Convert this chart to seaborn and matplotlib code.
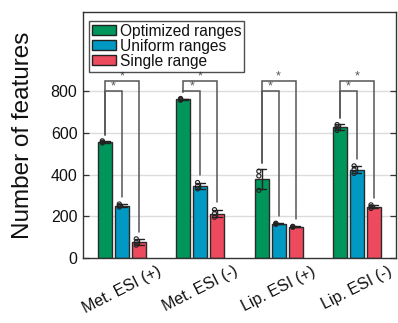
import numpy as np
import pandas as pd
import seaborn as sns
import matplotlib
matplotlib.use("Agg")
import matplotlib.pyplot as plt

# Acquisition modes and the three m/z range strategies
modes = ["Met. ESI (+)", "Met. ESI (-)", "Lip. ESI (+)", "Lip. ESI (-)"]
methods = ["Optimized ranges", "Uniform ranges", "Single range"]
colors = ["#00955A", "#0099C4", "#EE4A5E"]

# Feature counts of the replicate runs (per mode)
optimized = [[552, 556, 562], [757, 760, 765], [416, 394, 325], [612, 628, 640]]
uniform = [[245, 251, 259], [332, 345, 362], [162, 164, 167], [406, 424, 442]]
single = [[62, 76, 92], [196, 213, 232], [148, 150, 152], [238, 246, 255]]

yticks = [0, 200, 400, 600, 800]

rows = []
for method, table in zip(methods, [optimized, uniform, single]):
    for mode, reps in zip(modes, table):
        for v in reps:
            rows.append({"mode": mode, "method": method, "count": v})
df = pd.DataFrame(rows)

sns.set_theme(style="white")
plt.rcParams["font.family"] = ["Liberation Sans", "DejaVu Sans"]

fig = plt.figure(figsize=(3.98, 3.23), dpi=100)
ax = fig.add_axes([0.2085, 0.201, 0.7865, 0.762])

for y in yticks[1:]:
    ax.axhline(y, color="#dcdcdc", lw=1.0, zorder=0)

sns.barplot(data=df, x="mode", y="count", hue="method", order=modes,
            hue_order=methods, palette=colors, errorbar="sd", capsize=0.35,
            err_kws={"color": "#222222", "linewidth": 1.0},
            width=0.65, gap=0.17, edgecolor="#2a2a2a", linewidth=1.0,
            saturation=1, ax=ax, zorder=2)

# replicate points as small open circles on the left half of each bar
tables = [optimized, uniform, single]
for h, cont in enumerate(ax.containers):
    for j, bar in enumerate(cont):
        xc = bar.get_x() + bar.get_width() * 0.3
        reps = tables[h][j]
        ax.scatter([xc] * len(reps), reps, s=9, facecolors="none",
                   edgecolors="#222222", linewidths=0.8, zorder=4)

# significance brackets: optimized vs uniform and optimized vs single
br_col = "#555555"
levels = [(1, 800, 822), (2, 850, 872)]
for j in range(len(modes)):
    g = ax.containers[0][j]
    xg = g.get_x() + g.get_width() / 2
    top_g = np.mean(optimized[j]) + np.std(optimized[j], ddof=1) + 30
    for h, ybr, yst in levels:
        b = ax.containers[h][j]
        xb = b.get_x() + b.get_width() / 2
        reps = tables[h][j]
        top_b = np.mean(reps) + np.std(reps, ddof=1) + 35
        ax.plot([xg, xg, xb, xb], [top_g, ybr, ybr, top_b], color=br_col,
                lw=1.1, zorder=3, solid_joinstyle="miter")
        ax.text((xg + xb) / 2, yst, "*", ha="center", va="center",
                fontsize=9, color="#555555", zorder=3)

ax.set_ylim(0, 1180)
ax.set_xlim(-0.5, 3.5)
ax.set_yticks(yticks)
ax.set_yticklabels([str(v) for v in yticks], fontsize=11.5)
ax.set_xticks(range(len(modes)))
ax.set_xticklabels(modes, fontsize=11.5, rotation=27, ha="center")
ax.set_xlabel("")
ax.set_ylabel("Number of features", fontsize=17.5, labelpad=12)
ax.tick_params(axis="both", direction="in", length=4, width=0.9,
               color="#333333", left=True, right=True, bottom=False,
               pad=4, labelcolor="#111111")
ax.tick_params(axis="x", pad=4)
ax.yaxis.label.set_color("#111111")
for sp in ax.spines.values():
    sp.set_color("#333333")
    sp.set_linewidth(1.0)
    sp.set_visible(True)

leg = ax.legend(loc="upper left", bbox_to_anchor=(0.02, 0.965),
                fontsize=11.2, frameon=True, fancybox=False,
                edgecolor="#222222", handlelength=1.5, handleheight=0.6,
                handletextpad=0.25, labelspacing=0.0, borderpad=0.2,
                borderaxespad=0.0)
leg.get_frame().set_linewidth(1.0)
for p in leg.get_patches():
    p.set_edgecolor("#222222")
    p.set_linewidth(1.0)
for t in leg.get_texts():
    t.set_color("#111111")

fig.savefig("out.png", dpi=100)
